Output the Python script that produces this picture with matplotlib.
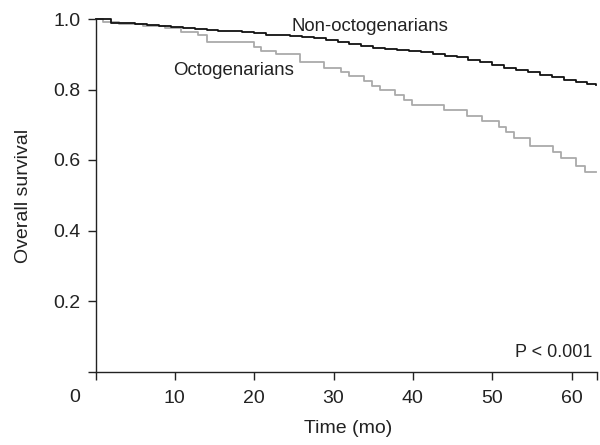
import matplotlib
matplotlib.use("Agg")
import matplotlib.pyplot as plt
from matplotlib.transforms import ScaledTranslation

plt.rcParams['font.family'] = ['Liberation Sans', 'DejaVu Sans']

# Non-octogenarians (Kaplan-Meier steps)
non_t = [0, 2.0, 3.5, 5.0, 6.5, 8.0, 9.5, 11.0, 12.5, 14.0, 15.5, 17.0, 18.5,
         20.0, 21.5, 23.0, 24.5, 26.0, 27.5, 29.0, 30.5, 32.0, 33.5, 35.0,
         36.5, 38.0, 39.5, 41.0, 42.5, 44.0, 45.5, 47.0, 48.5, 50.0, 51.5,
         53.0, 54.5, 56.0, 57.5, 59.0, 60.5, 62.0, 63.1]
non_s = [1.000, 0.990, 0.988, 0.985, 0.983, 0.980, 0.977, 0.975, 0.972, 0.970,
         0.967, 0.965, 0.962, 0.959, 0.956, 0.954, 0.952, 0.949, 0.945, 0.941,
         0.936, 0.930, 0.924, 0.919, 0.915, 0.911, 0.908, 0.905, 0.901, 0.896,
         0.891, 0.885, 0.878, 0.870, 0.862, 0.856, 0.849, 0.842, 0.835, 0.828,
         0.822, 0.816, 0.813]

# Octogenarians
oct_t = [0, 0.9, 3.0, 6.0, 8.7, 10.8, 12.9, 14.0, 20.0, 20.9, 22.8, 25.8, 28.8,
         30.9, 31.9, 33.8, 34.9, 35.8, 37.8, 38.9, 39.9, 43.9, 46.8, 48.7,
         50.8, 51.7, 52.8, 54.8, 57.7, 58.7, 60.6, 61.7, 63.1]
oct_s = [1.0, 0.991, 0.986, 0.981, 0.974, 0.962, 0.956, 0.934, 0.921, 0.910,
         0.900, 0.877, 0.862, 0.851, 0.837, 0.824, 0.810, 0.798, 0.783, 0.769,
         0.756, 0.742, 0.726, 0.711, 0.695, 0.679, 0.661, 0.641, 0.624, 0.605,
         0.584, 0.565, 0.565]

x_ticks = [0, 10, 20, 30, 40, 50, 60]
x_ticklabels = ['', '10', '20', '30', '40', '50', '60']
y_ticks = [0, 0.2, 0.4, 0.6, 0.8, 1.0]
y_ticklabels = ['', '0.2', '0.4', '0.6', '0.8', '1.0']

axc = '#222222'
txtc = '#222222'

fig = plt.figure(figsize=(6, 4.45), dpi=100)
ax = fig.add_axes([95.5 / 600, 1 - 371.5 / 445, (597 - 95.5) / 600, 352.5 / 445])

ax.plot(oct_t, oct_s, drawstyle='steps-post', color='#aaaaaa', lw=1.3, clip_on=False, zorder=3)
ax.plot(non_t, non_s, drawstyle='steps-post', color='#111111', lw=1.3, clip_on=False, zorder=4)

ax.set_xlim(0, 63.2)
ax.set_ylim(0, 1.0)
for s in ['top', 'right']:
    ax.spines[s].set_visible(False)
for s in ['left', 'bottom']:
    ax.spines[s].set_color(axc)
    ax.spines[s].set_linewidth(1.0)

ax.set_xticks(x_ticks + [63.2])
ax.set_xticklabels(x_ticklabels + [''])
ax.set_yticks(y_ticks)
ax.set_yticklabels(y_ticklabels)
ax.tick_params(axis='x', direction='out', length=5.5, width=1.0, color=axc,
               labelsize=14, labelcolor=txtc, pad=7.5)
ax.tick_params(axis='y', direction='out', length=5.5, width=1.0, color=axc,
               labelsize=14, labelcolor=txtc, pad=5.5)

# origin label "0" placed at the corner
ax.text(-2.6, 0, '0', transform=ax.transData + ScaledTranslation(0, -(401.7 - 371.5) / 100, fig.dpi_scale_trans),
        ha='center', va='baseline', fontsize=14, color=txtc, clip_on=False)

fig.text(348 / 600, 1 - 433.3 / 445, 'Time (mo)', ha='center', va='baseline', fontsize=14, color=txtc)
fig.text(24 / 600, 1 - 196 / 445, 'Overall survival', ha='center', va='center', rotation=90,
         fontsize=14, color=txtc)

ax.text(24.7, 0.966, 'Non-octogenarians', ha='left', va='baseline', fontsize=13.4, color=txtc)
ax.text(9.73, 0.841, 'Octogenarians', ha='left', va='baseline', fontsize=13.4, color=txtc)
ax.text(62.6, 0.041, 'P < 0.001', ha='right', va='baseline', fontsize=13, color=txtc)

fig.savefig('out.png', dpi=100)
